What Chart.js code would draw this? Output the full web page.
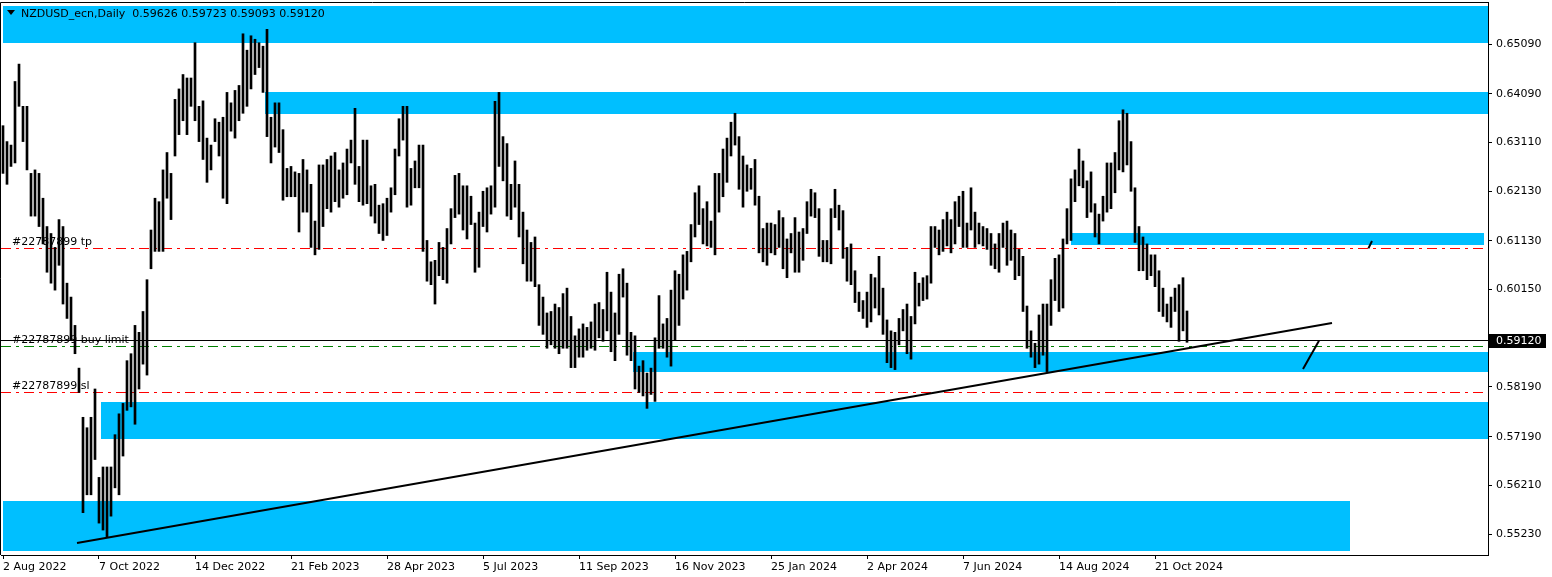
<!DOCTYPE html>
<html>
<head>
<meta charset="utf-8">
<script src="https://cdn.jsdelivr.net/npm/chart.js@4.4.1/dist/chart.umd.min.js"></script>
<style>
  html, body { margin: 0; padding: 0; background: #fff; }
  canvas { display: block; }
</style>
</head>
<body>
<canvas id="chart" width="1552" height="577"></canvas>
<script>
// NZDUSD daily, one entry every 2 trading days (bar index = 2 * k)
const highs = [
  .6345,.6313,.6306,.6434,.6469,.6384,.6384,.6249,.6256,.6249,
  .6199,.6142,.6128,.6100,.6156,.6142,.6028,.6000,.5943,.5857,
  .5758,.5737,.5758,.5815,.5637,.5658,.5658,.5658,.5723,.5765,
  .5786,.5872,.5886,.5943,.5929,.5971,.6035,.6135,.6199,.6192,
  .6256,.6291,.6249,.6398,.6419,.6448,.6441,.6441,.6512,.6384,
  .6395,.6320,.6306,.6359,.6352,.6362,.6412,.6391,.6416,.6426,
  .6530,.6497,.6526,.6519,.6512,.6505,.6539,.6362,.6391,.6391,
  .6337,.6259,.6263,.6252,.6249,.6277,.6256,.6227,.6153,.6266,
  .6266,.6277,.6284,.6291,.6256,.6270,.6298,.6316,.6380,.6263,
  .6316,.6316,.6224,.6227,.6185,.6188,.6199,.6220,.6298,.6359,
  .6384,.6384,.6259,.6274,.6306,.6306,.6114,.6071,.6074,.6110,
  .6100,.6138,.6178,.6245,.6249,.6224,.6224,.6203,.6149,.6171,
  .6213,.6220,.6224,.6394,.6412,.6323,.6309,.6227,.6274,.6227,
  .6171,.6135,.6110,.6121,.6025,.6000,.5968,.5971,.5986,.5979,
  .6007,.6018,.5961,.5922,.5936,.5946,.5939,.5950,.5986,.5989,
  .5975,.6050,.6010,.5968,.6046,.6057,.6028,.5929,.5922,.5861,
  .5872,.5847,.5857,.5918,.6003,.5946,.5957,.6014,.6053,.6046,
  .6085,.6092,.6146,.6210,.6224,.6178,.6192,.6153,.6249,.6249,
  .6298,.6320,.6352,.6370,.6323,.6284,.6266,.6259,.6277,.6203,
  .6138,.6149,.6149,.6146,.6174,.6160,.6117,.6128,.6160,.6131,
  .6138,.6192,.6217,.6210,.6178,.6114,.6114,.6178,.6217,.6185,
  .6174,.6100,.6107,.6053,.6010,.5993,.6010,.6046,.6039,.6082,
  .6018,.5954,.5932,.5929,.5957,.5975,.5986,.5961,.6050,.6028,
  .6039,.6043,.6142,.6142,.6135,.6156,.6171,.6156,.6192,.6203,
  .6213,.6149,.6220,.6171,.6149,.6142,.6138,.6128,.6107,.6128,
  .6149,.6153,.6135,.6128,.6096,.6082,.5982,.5932,.5907,.5964,
  .5986,.5986,.6035,.6078,.6085,.6117,.6178,.6238,.6256,.6298,
  .6274,.6234,.6252,.6188,.6167,.6203,.6270,.6270,.6291,.6355,
  .6377,.6370,.6313,.6220,.6142,.6121,.6107,.6085,.6085,.6053,
  .6018,.5986,.6000,.6018,.6025,.6039,.5972
];
const lows = [
  .6249,.6227,.6263,.6270,.6384,.6313,.6256,.6163,.6163,.6142,
  .6107,.6050,.6028,.6014,.6064,.5986,.5957,.5914,.5886,.5808,
  .5566,.5602,.5602,.5673,.5545,.5531,.5516,.5559,.5616,.5602,
  .5680,.5772,.5779,.5744,.5815,.5865,.5843,.6057,.6092,.6092,
  .6092,.6199,.6156,.6284,.6327,.6355,.6327,.6384,.6355,.6313,
  .6277,.6231,.6256,.6313,.6284,.6199,.6188,.6334,.6320,.6355,
  .6370,.6384,.6419,.6448,.6462,.6412,.6323,.6270,.6302,.6291,
  .6195,.6202,.6202,.6202,.6131,.6171,.6171,.6100,.6085,.6096,
  .6142,.6178,.6171,.6192,.6181,.6199,.6206,.6270,.6227,.6192,
  .6185,.6188,.6163,.6149,.6128,.6114,.6124,.6171,.6206,.6284,
  .6316,.6181,.6185,.6220,.6220,.6092,.6032,.6025,.5986,.6043,
  .6035,.6028,.6107,.6160,.6167,.6135,.6117,.6146,.6050,.6060,
  .6142,.6131,.6167,.6181,.6263,.6234,.6163,.6156,.6181,.6121,
  .6067,.6032,.6032,.6021,.5943,.5925,.5897,.5904,.5897,.5886,
  .5897,.5897,.5858,.5858,.5879,.5879,.5893,.5897,.5893,.5918,
  .5911,.5932,.5890,.5872,.5925,.6000,.5883,.5872,.5815,.5808,
  .5801,.5776,.5804,.5790,.5897,.5897,.5879,.5861,.5914,.5943,
  .5996,.6014,.6071,.6121,.6146,.6107,.6103,.6100,.6085,.6171,
  .6202,.6231,.6284,.6306,.6217,.6181,.6213,.6217,.6185,.6089,
  .6071,.6064,.6089,.6085,.6100,.6057,.6039,.6089,.6050,.6050,
  .6074,.6128,.6163,.6160,.6082,.6071,.6071,.6067,.6160,.6135,
  .6078,.6032,.6025,.5989,.5971,.5957,.5939,.5950,.5978,.5964,
  .5925,.5868,.5858,.5854,.5904,.5932,.5886,.5875,.5946,.5982,
  .5993,.5996,.6028,.6100,.6085,.6092,.6103,.6089,.6107,.6142,
  .6100,.6100,.6135,.6100,.6107,.6103,.6096,.6064,.6057,.6050,
  .6100,.6064,.6074,.6035,.6043,.5971,.5897,.5879,.5858,.5865,
  .5883,.5850,.5943,.5993,.5971,.5978,.6107,.6114,.6192,.6224,
  .6220,.6160,.6171,.6121,.6107,.6153,.6171,.6178,.6210,.6256,
  .6252,.6266,.6213,.6110,.6053,.6053,.6035,.6043,.6021,.5971,
  .5961,.5950,.5939,.5971,.5911,.5932,.5909
];

const dateLabels = ['2 Aug 2022', '7 Oct 2022', '14 Dec 2022', '21 Feb 2023', '28 Apr 2023', '5 Jul 2023',
  '11 Sep 2023', '16 Nov 2023', '25 Jan 2024', '2 Apr 2024', '7 Jun 2024', '14 Aug 2024', '21 Oct 2024'];
const dateTicks = dateLabels.map((d, i) => i * 48);
const priceTicks = [0.65090, 0.64090, 0.63110, 0.62130, 0.61130, 0.60150, 0.58190, 0.57190, 0.56210, 0.55230];

// zones: [fromBar, toBar, topPrice, bottomPrice]
const zones = [
  [0, 742.5, 0.6586, 0.6512],
  [131, 742.5, 0.6413, 0.6368],
  [534, 740.5, 0.6129, 0.6105],
  [315, 742.5, 0.5889, 0.5849],
  [49, 742.5, 0.5789, 0.5714],
  [0, 673.5, 0.5590, 0.5489]
];
const tpPrice = 0.6098;
const slPrice = 0.5808;
const buyLimitPrice = 0.5900;
const bidPrice = 0.5912;
// trend lines: [bar1, price1, bar2, price2]
const trendLines = [
  [37, 0.5505, 664.5, 0.5948],
  [650, 0.5855, 658, 0.5912],
  [682.7, 0.6098, 684.5, 0.6113]
];
const header = 'NZDUSD_ecn,Daily  0.59626 0.59723 0.59093 0.59120';

const barData = highs.map((h, k) => ({ x: k * 2, y: [lows[k], h] }));

const FONT = '11px "DejaVu Sans"';

const overlay = {
  id: 'overlay',
  beforeDatasetsDraw(chart) {
    const { ctx, chartArea: a, scales: { x, y } } = chart;
    ctx.save();
    ctx.beginPath();
    ctx.rect(a.left, a.top, a.right - a.left, a.bottom - a.top);
    ctx.clip();
    ctx.fillStyle = '#00BFFF';
    zones.forEach(z => {
      const x0 = Math.round(x.getPixelForValue(z[0]));
      const x1 = Math.round(x.getPixelForValue(z[1]));
      const y0 = Math.round(y.getPixelForValue(z[2]));
      const y1 = Math.round(y.getPixelForValue(z[3]));
      ctx.fillRect(x0, y0, x1 - x0, y1 - y0);
    });
    const hline = (p, color, dash) => {
      const py = Math.floor(y.getPixelForValue(p)) + 0.5;
      ctx.strokeStyle = color;
      ctx.lineWidth = 1;
      ctx.setLineDash(dash);
      ctx.beginPath();
      ctx.moveTo(a.left, py);
      ctx.lineTo(a.right, py);
      ctx.stroke();
    };
    hline(tpPrice, '#FF0000', [10, 5, 3, 5]);
    hline(slPrice, '#FF0000', [10, 5, 3, 5]);
    hline(buyLimitPrice, '#008000', [10, 5, 3, 5]);
    hline(bidPrice, '#000000', []);
    ctx.restore();
  },
  afterDatasetsDraw(chart) {
    const { ctx, chartArea: a, scales: { x, y } } = chart;
    ctx.save();
    ctx.beginPath();
    ctx.rect(a.left, a.top, a.right - a.left, a.bottom - a.top);
    ctx.clip();
    ctx.strokeStyle = '#000';
    ctx.lineWidth = 2;
    trendLines.forEach(t => {
      ctx.beginPath();
      ctx.moveTo(x.getPixelForValue(t[0]), y.getPixelForValue(t[1]));
      ctx.lineTo(x.getPixelForValue(t[2]), y.getPixelForValue(t[3]));
      ctx.stroke();
    });
    ctx.fillStyle = '#000';
    ctx.font = FONT;
    ctx.textBaseline = 'alphabetic';
    ctx.fillText('#22787899 tp', 12, y.getPixelForValue(tpPrice) - 3.5);
    ctx.fillText('#22787899 buy limit', 12, y.getPixelForValue(buyLimitPrice) - 4);
    ctx.fillText('#22787899 sl', 12, y.getPixelForValue(slPrice) - 3.5);
    ctx.restore();
  },
  afterDraw(chart) {
    const { ctx, chartArea: a, scales: { y } } = chart;
    ctx.save();
    // frame (left and top)
    ctx.strokeStyle = '#000';
    ctx.lineWidth = 1;
    ctx.beginPath();
    ctx.moveTo(0.5, a.bottom);
    ctx.lineTo(0.5, a.top + 0.5);
    ctx.lineTo(a.right, a.top + 0.5);
    ctx.stroke();
    // header
    ctx.fillStyle = '#000';
    ctx.beginPath();
    ctx.moveTo(7, 10);
    ctx.lineTo(15, 10);
    ctx.lineTo(11, 15);
    ctx.closePath();
    ctx.fill();
    ctx.font = FONT;
    ctx.textBaseline = 'alphabetic';
    ctx.fillText(header, 21, 17);
    // current price label
    const py = y.getPixelForValue(bidPrice);
    ctx.fillRect(a.right + 1, Math.round(py) - 7, 57, 14);
    ctx.fillStyle = '#fff';
    ctx.textBaseline = 'middle';
    ctx.fillText(bidPrice.toFixed(5), a.right + 8, py + 0.5);
    ctx.restore();
  }
};

Chart.defaults.font.family = '"DejaVu Sans"';
Chart.defaults.font.size = 11;
Chart.defaults.color = '#000';

new Chart(document.getElementById('chart'), {
  type: 'bar',
  data: {
    datasets: [{
      data: barData,
      backgroundColor: '#000',
      borderWidth: 0,
      barThickness: 2,
      grouped: false
    }]
  },
  options: {
    responsive: false,
    animation: false,
    devicePixelRatio: 1,
    layout: { autoPadding: false, padding: { left: 1, top: 2, right: 0, bottom: 0 } },
    plugins: { legend: { display: false }, tooltip: { enabled: false } },
    scales: {
      x: {
        type: 'linear',
        offset: false,
        min: -1,
        max: 742.5,
        afterBuildTicks: s => { s.ticks = dateTicks.map(v => ({ value: v })); },
        afterFit: s => { s.height = 22; s.paddingLeft = 0; s.paddingRight = 0; },
        ticks: {
          autoSkip: false,
          maxRotation: 0,
          align: 'start',
          padding: 2,
          callback: (v, i) => dateLabels[i]
        },
        grid: { offset: false, drawOnChartArea: false, drawTicks: true, tickLength: 4, color: '#000' },
        border: { display: true, color: '#000' }
      },
      y: {
        position: 'right',
        min: 0.54808,
        max: 0.65940,
        afterBuildTicks: s => { s.ticks = priceTicks.map(v => ({ value: v })); },
        afterFit: s => { s.width = 64; s.paddingTop = 0; s.paddingBottom = 0; },
        ticks: {
          padding: 4,
          callback: v => v.toFixed(5)
        },
        grid: { drawOnChartArea: false, drawTicks: true, tickLength: 4, color: '#000' },
        border: { display: true, color: '#000' }
      }
    }
  },
  plugins: [overlay]
});
</script>
</body>
</html>
